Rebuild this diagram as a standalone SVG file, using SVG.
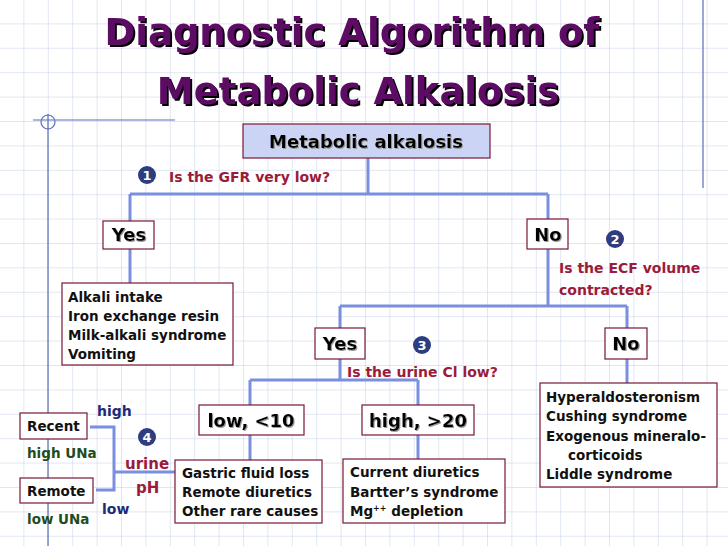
<svg xmlns="http://www.w3.org/2000/svg" width="728" height="546" viewBox="0 0 728 546">
<defs>
<pattern id="grid" x="-1" y="-1" width="24.4" height="24.4" patternUnits="userSpaceOnUse">
<path d="M0 0H24.4M0 0V24.4" fill="none" stroke="#c3d0e6" stroke-width="1"/>
</pattern>
<filter id="sh" x="-5%" y="-10%" width="110%" height="130%"><feDropShadow dx="2" dy="2" stdDeviation="0" flood-color="#000"/></filter>
<filter id="sh1" x="-5%" y="-10%" width="110%" height="130%"><feDropShadow dx="1" dy="1" stdDeviation="0.3" flood-color="#999"/></filter>
</defs>
<style>
text{font-family:Verdana,"DejaVu Sans",sans-serif;font-weight:bold}
.box{fill:#fff;stroke:#7a1636;stroke-width:1.2}
.lbl{font-size:18px;fill:#000;text-anchor:middle}
.lst{font-size:13.5px;fill:#111}
.q{font-size:14px;fill:#9b1b3a}
.num{fill:#2e3c80}
.numt{fill:#fff;font-size:13px;text-anchor:middle}
.con{fill:none;stroke:#7a8fe0;stroke-width:3}
</style>
<rect width="728" height="546" fill="#fff"/>
<rect width="728" height="546" fill="url(#grid)"/>
<g id="deco" stroke="#5a6fb8" fill="none" stroke-width="1.2">
<path d="M48 114V546M33 120H175M703 0V188"/>
<circle cx="48" cy="122" r="7"/>
</g>
<g id="title" filter="url(#sh)" fill="#5c0a64" font-size="37" text-anchor="middle">
<text x="352" y="45">Diagnostic Algorithm of</text>
<text x="358" y="104">Metabolic Alkalosis</text>
</g>
<g id="connectors" class="con">
<path class="con" d="M368 158V194M130 194H548M130 194V221M548 194V219"/>
<path class="con" d="M130 249V283"/>
<path class="con" d="M548 249V306M340 306H627M340 306V328M627 306V328"/>
<path class="con" d="M340 359V380M250 380H418M250 380V405M418 380V405"/>
<path class="con" d="M627 359V383"/>
<path class="con" d="M250 435V460M418 435V459"/>
<path class="con" d="M90 427H114V490H96M114 472H175"/>
</g>
<g id="root"><rect x="243" y="124" width="247" height="34" fill="#ccd4f5" stroke="#7a1636" stroke-width="1.2"/><text class="lbl" x="366" y="148" filter="url(#sh1)">Metabolic alkalosis</text></g>
<g id="q1"><circle class="num" cx="147" cy="175" r="9"/><text class="numt" x="147" y="180">1</text><text class="q" x="169" y="182">Is the GFR very low?</text></g>
<g id="yes1"><rect class="box" x="103" y="221" width="51" height="28"/><text class="lbl" x="129" y="241" filter="url(#sh1)">Yes</text></g>
<g id="no1"><rect class="box" x="527" y="219" width="41" height="30"/><text class="lbl" x="548" y="241" filter="url(#sh1)">No</text></g>
<g id="gfrlow"><rect class="box" x="62" y="283" width="171" height="82"/>
<text class="lst" x="68" y="302">Alkali intake</text><text class="lst" x="68" y="321">Iron exchange resin</text><text class="lst" x="68" y="340">Milk-alkali syndrome</text><text class="lst" x="68" y="359">Vomiting</text></g>
<g id="q2"><circle class="num" cx="615" cy="239" r="9"/><text class="numt" x="615" y="244">2</text><text class="q" x="559" y="273">Is the ECF volume</text><text class="q" x="559" y="295">contracted?</text></g>
<g id="yes2"><rect class="box" x="315" y="328" width="50" height="31"/><text class="lbl" x="340" y="350" filter="url(#sh1)">Yes</text></g>
<g id="no2"><rect class="box" x="605" y="328" width="42" height="31"/><text class="lbl" x="626" y="350" filter="url(#sh1)">No</text></g>
<g id="q3"><circle class="num" cx="422" cy="345" r="9"/><text class="numt" x="422" y="350">3</text><text class="q" x="347" y="377">Is the urine Cl low?</text></g>
<g id="ecfno"><rect class="box" x="540" y="383" width="177" height="104"/>
<text class="lst" x="546" y="402">Hyperaldosteronism</text><text class="lst" x="546" y="421">Cushing syndrome</text><text class="lst" x="546" y="441">Exogenous mineralo-</text><text class="lst" x="568" y="460">corticoids</text><text class="lst" x="546" y="479">Liddle syndrome</text></g>
<g id="low"><rect class="box" x="199" y="405" width="105" height="30"/><text class="lbl" x="251" y="427" filter="url(#sh1)">low, &lt;10</text></g>
<g id="high"><rect class="box" x="362" y="405" width="112" height="30"/><text class="lbl" x="418" y="427" filter="url(#sh1)">high, &gt;20</text></g>
<g id="lowlist"><rect class="box" x="175" y="460" width="147" height="63"/>
<text class="lst" x="182" y="478">Gastric fluid loss</text><text class="lst" x="182" y="497">Remote diuretics</text><text class="lst" x="182" y="516">Other rare causes</text></g>
<g id="highlist"><rect class="box" x="343" y="459" width="162" height="64"/>
<text class="lst" x="350" y="477">Current diuretics</text><text class="lst" x="350" y="497">Bartter’s syndrome</text><text class="lst" x="350" y="516">Mg<tspan font-size="8" dy="-5">++</tspan><tspan dy="5"> depletion</tspan></text></g>
<g id="recent"><rect class="box" x="20" y="413" width="67" height="26"/><text class="lst" x="27" y="431">Recent</text><text x="27" y="458" font-size="13.5" fill="#1e4d1e">high UNa</text></g>
<g id="remote"><rect class="box" x="20" y="478" width="73" height="25"/><text class="lst" x="27" y="496">Remote</text><text x="27" y="524" font-size="13.5" fill="#1e4d1e">low UNa</text></g>
<g id="q4"><circle class="num" cx="147" cy="437" r="9"/><text class="numt" x="147" y="442">4</text>
<text x="97" y="416" font-size="14" fill="#1f2a78">high</text><text x="102" y="514" font-size="14" fill="#1f2a78">low</text>
<text x="125" y="469" font-size="15" fill="#9b1b3a">urine</text><text x="136" y="493" font-size="15" fill="#9b1b3a">pH</text></g>
</svg>
